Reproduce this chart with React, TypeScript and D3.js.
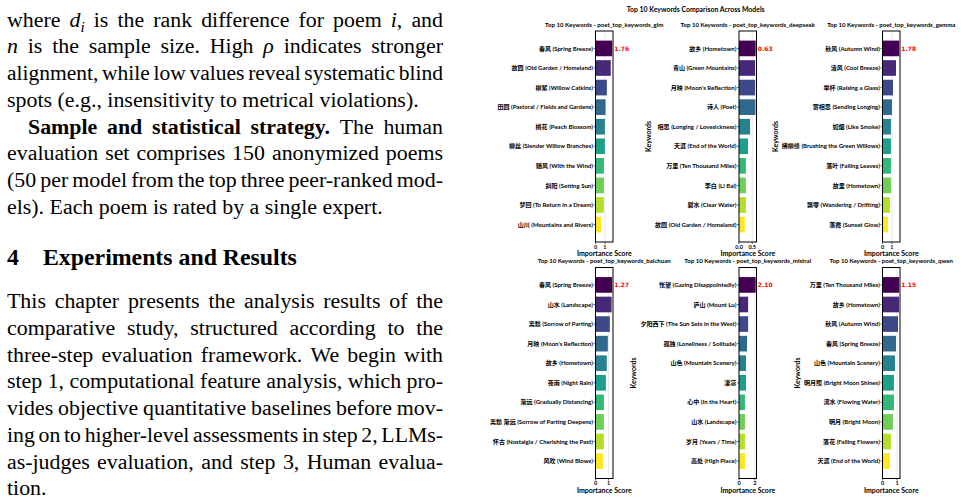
import React, { useEffect, useRef } from 'react';
import * as d3 from 'd3';

const W = 962;
const H = 503;

// ---------- chart data ----------
const glmKeywords = [
  '春风 (Spring Breeze)', '故园 (Old Garden / Homeland)', '柳絮 (Willow Catkins)',
  '田园 (Pastoral / Fields and Gardens)', '桃花 (Peach Blossom)', '柳丝 (Slender Willow Branches)',
  '随风 (With the Wind)', '斜阳 (Setting Sun)', '梦回 (To Return in a Dream)', '山川 (Mountains and Rivers)',
];
const glmScores = [1.76, 1.61, 1.2, 1.06, 0.99, 0.99, 0.89, 0.89, 0.88, 0.58];

const deepseekKeywords = [
  '故乡 (Hometown)', '青山 (Green Mountains)', "月映 (Moon's Reflection)", '诗人 (Poet)',
  '相思 (Longing / Lovesickness)', '天涯 (End of the World)', '万里 (Ten Thousand Miles)',
  '李白 (Li Bai)', '碧水 (Clear Water)', '故园 (Old Garden / Homeland)',
];
const deepseekScores = [0.63, 0.61, 0.61, 0.62, 0.42, 0.34, 0.26, 0.26, 0.26, 0.22];

const gemmaKeywords = [
  '秋风 (Autumn Wind)', '清风 (Cool Breeze)', '举杯 (Raising a Glass)', '寄相思 (Sending Longing)',
  '如烟 (Like Smoke)', '拂柳绦 (Brushing the Green Willows)', '落叶 (Falling Leaves)',
  '故里 (Hometown)', '飘零 (Wandering / Drifting)', '落霞 (Sunset Glow)',
];
const gemmaScores = [1.78, 1.44, 1.12, 1.01, 0.9, 0.9, 0.9, 0.9, 0.79, 0.58];

const baichuanKeywords = [
  '春风 (Spring Breeze)', '山水 (Landscape)', '离愁 (Sorrow of Parting)', "月映 (Moon's Reflection)",
  '故乡 (Hometown)', '夜雨 (Night Rain)', '渐远 (Gradually Distancing)',
  '离愁 渐远 (Sorrow of Parting Deepens)', '怀古 (Nostalgia / Cherishing the Past)', '风吹 (Wind Blows)',
];
const baichuanScores = [1.27, 1.23, 1.09, 0.94, 0.86, 0.79, 0.64, 0.64, 0.64, 0.57];

const mistralKeywords = [
  '怅望 (Gazing Disappointedly)', '庐山 (Mount Lu)', '夕阳西下 (The Sun Sets in the West)',
  '孤独 (Loneliness / Solitude)', '山色 (Mountain Scenery)', '凄凉', '心中 (In the Heart)',
  '山水 (Landscape)', '岁月 (Years / Time)', '高处 (High Place)',
];
const mistralScores = [2.1, 1.15, 1.15, 1.01, 0.88, 0.88, 0.75, 0.75, 0.75, 0.75];

const qwenKeywords = [
  '万里 (Ten Thousand Miles)', '故乡 (Hometown)', '秋风 (Autumn Wind)', '春风 (Spring Breeze)',
  '山色 (Mountain Scenery)', '明月照 (Bright Moon Shines)', '流水 (Flowing Water)',
  '明月 (Bright Moon)', '落花 (Falling Flowers)', '天涯 (End of the World)',
];
const qwenScores = [1.15, 1.14, 1.07, 0.93, 0.86, 0.79, 0.79, 0.72, 0.58, 0.51];

const modelNames = ['glm', 'deepseek', 'gemma', 'baichuan', 'mistral', 'qwen'];
const glmTicks = [0, 1];
const deepseekTicks = [0, 0.5];
const gemmaTicks = [0, 1];
const baichuanTicks = [0, 1];
const mistralTicks = [0, 2];
const qwenTicks = [0, 1];

// ---------- page text ----------
const para1 = [
  'where *d*_i is the rank difference for poem *i*, and',
  '*n* is the sample size. High *ρ* indicates stronger',
  'alignment, while low values reveal systematic blind',
  'spots (e.g., insensitivity to metrical violations).',
  '#Sample #and #statistical #strategy. The human',
  'evaluation set comprises 150 anonymized poems',
  '(50 per model from the top three peer-ranked mod-',
  'els). Each poem is rated by a single expert.',
];
const para1Last = [3, 7];
const para1Indent = [4];
const headingNum = '4';
const headingText = 'Experiments and Results';
const para2 = [
  'This chapter presents the analysis results of the',
  'comparative study, structured according to the',
  'three-step evaluation framework. We begin with',
  'step 1, computational feature analysis, which pro-',
  'vides objective quantitative baselines before mov-',
  'ing on to higher-level assessments in step 2, LLMs-',
  'as-judges evaluation, and step 3, Human evalua-',
  'tion.',
];
const para2Last = [7];

const BODY_FONT = "'Liberation Serif', 'Times New Roman', serif";
const CHART_FONT = "Lato, 'Noto Sans CJK SC', sans-serif";

function parseToken(tok) {
  let bold = false;
  if (tok.startsWith('#')) {
    bold = true;
    tok = tok.slice(1);
  }
  const segs = [];
  const re = /\*([^*]+)\*|_(.)|([^*_]+)/g;
  let m;
  while ((m = re.exec(tok))) {
    if (m[1]) segs.push({ t: m[1], kind: 'it' });
    else if (m[2]) segs.push({ t: m[2], kind: 'sub' });
    else segs.push({ t: m[3], kind: 'rm' });
  }
  return { bold, segs };
}

// lay out one paragraph line by line; justified lines get stretched (or squeezed) word gaps
function drawParagraph(g, lines, lastLines, indentLines, startY, step, fs, left, right) {
  const minGap = fs * 0.17;
  lines.forEach((line, li) => {
    const y = startY + li * step;
    const indent = indentLines.includes(li) ? 21 : 0;
    const tokens = line.split(/\s+/).map(parseToken);
    const nodes = tokens.map((tk) => {
      const text = g.append('text')
        .attr('x', 0)
        .attr('y', y)
        .attr('font-size', fs)
        .attr('font-weight', tk.bold ? 'bold' : 'normal');
      let shift = 0;
      tk.segs.forEach((s) => {
        const ts = text.append('tspan').text(s.t);
        if (s.kind === 'it') ts.attr('font-style', 'italic');
        if (s.kind === 'sub') {
          ts.attr('font-style', 'italic').attr('font-size', fs * 0.7).attr('dy', fs * 0.22 - shift);
          shift = fs * 0.22;
        } else if (shift) {
          ts.attr('dy', -shift);
          shift = 0;
        }
      });
      return text;
    });
    const widths = nodes.map((n) => n.node().getComputedTextLength());
    const total = d3.sum(widths);
    const x0 = left + indent;
    const avail = right - x0;
    let gap = fs * 0.25;
    let squeeze = 1;
    if (!lastLines.includes(li) && nodes.length > 1) {
      gap = (avail - total) / (nodes.length - 1);
      if (gap < minGap) {
        gap = minGap;
        squeeze = (avail - minGap * (nodes.length - 1)) / total;
      }
    }
    let x = x0;
    nodes.forEach((n, i) => {
      n.attr('transform', `translate(${x},0) scale(${squeeze},1)`);
      x += widths[i] * squeeze + gap;
    });
  });
}

function drawPanel(svg, name, keywords, scores, ticks, x0, y0, fw, fh, showYLabel) {
  const g = svg.append('g').attr('transform', `translate(${x0},${y0})`);
  const xMax = d3.max(scores) * 1.05;
  const x = d3.scaleLinear().domain([0, xMax]).range([0, fw]);
  const y = d3.scaleLinear().domain([-0.89, 9.89]).range([0, fh]);
  const color = (i) => d3.interpolateViridis(i / (scores.length - 1));
  const fmt = ticks.some((t) => t % 1 !== 0) ? d3.format('.1f') : d3.format('d');

  // grid lines
  g.selectAll('.grid')
    .data(ticks.filter((t) => t > 0))
    .enter()
    .append('line')
    .attr('x1', (d) => x(d))
    .attr('x2', (d) => x(d))
    .attr('y1', 0)
    .attr('y2', fh)
    .attr('stroke', '#e3e3e3')
    .attr('stroke-width', 0.8);

  // bars
  g.selectAll('.bar')
    .data(scores)
    .enter()
    .append('rect')
    .attr('x', 0)
    .attr('y', (d, i) => y(i - 0.4))
    .attr('width', (d) => x(d))
    .attr('height', y(0.8) - y(0))
    .attr('fill', (d, i) => color(i));

  // frame
  g.append('rect')
    .attr('width', fw)
    .attr('height', fh)
    .attr('fill', 'none')
    .attr('stroke', '#000')
    .attr('stroke-width', 1);

  // y ticks + labels
  const labels = [];
  keywords.forEach((k, i) => {
    g.append('line')
      .attr('x1', -2).attr('x2', 0)
      .attr('y1', y(i)).attr('y2', y(i))
      .attr('stroke', '#000').attr('stroke-width', 0.6);
    const t = g.append('text')
      .attr('x', -2.6)
      .attr('y', y(i))
      .attr('dy', '0.35em')
      .attr('text-anchor', 'end')
      .attr('font-size', 6.05)
      .attr('font-weight', 'bold')
      .text(k);
    labels.push(t.node().getComputedTextLength());
  });

  // x ticks + labels
  ticks.forEach((t) => {
    g.append('line')
      .attr('x1', x(t)).attr('x2', x(t))
      .attr('y1', fh).attr('y2', fh + 2)
      .attr('stroke', '#000').attr('stroke-width', 0.6);
    g.append('text')
      .attr('x', x(t))
      .attr('y', fh + 6.8)
      .attr('text-anchor', 'middle')
      .attr('font-size', 5.5)
      .attr('font-weight', 'bold')
      .text(fmt(t));
  });

  // value of the top keyword
  g.append('text')
    .attr('x', x(scores[0]) + 2.2)
    .attr('y', y(0))
    .attr('dy', '0.36em')
    .attr('font-family', "'DejaVu Sans', sans-serif")
    .attr('font-size', 6)
    .attr('font-weight', 'bold')
    .attr('fill', '#ff0000')
    .text(scores[0].toFixed(2));

  // subplot title
  g.append('text')
    .attr('x', fw / 2)
    .attr('y', -4.3)
    .attr('text-anchor', 'middle')
    .attr('font-size', 6.1)
    .attr('font-weight', 'bold')
    .text(`Top 10 Keywords - poet_top_keywords_${name}`);

  // x label
  g.append('text')
    .attr('x', fw / 2)
    .attr('y', fh + 14.2)
    .attr('text-anchor', 'middle')
    .attr('font-size', 7)
    .attr('font-weight', 'bold')
    .text('Importance Score');

  // y label
  if (showYLabel) {
    const lx = -2.6 - d3.max(labels) - 6.6;
    g.append('text')
      .attr('transform', `translate(${lx},${fh / 2}) rotate(-90)`)
      .attr('text-anchor', 'middle')
      .attr('dy', '0.35em')
      .attr('font-size', 7)
      .attr('font-weight', 'bold')
      .text('Keywords');
  }
}

function App() {
  const svgRef = useRef(null);

  useEffect(() => {
    const svg = d3.select(svgRef.current);
    svg.selectAll('*').remove();
    svg.append('rect').attr('width', W).attr('height', H).attr('fill', '#fff');

    // paper text column
    const page = svg.append('g').attr('font-family', BODY_FONT).attr('fill', '#000');
    drawParagraph(page, para1, para1Last, para1Indent, 26.7, 26.75, 21.9, 7, 443);
    page.append('text')
      .attr('x', 7).attr('y', 265)
      .attr('font-size', 23.8).attr('font-weight', 'bold')
      .text(headingNum);
    page.append('text')
      .attr('x', 43).attr('y', 265)
      .attr('font-size', 23.8).attr('font-weight', 'bold')
      .text(headingText);
    drawParagraph(page, para2, para2Last, [], 308.3, 26.7, 21.9, 7, 443);

    // figure
    const fig = svg.append('g').attr('font-family', CHART_FONT).attr('fill', '#000');
    fig.append('text')
      .attr('x', 695.7)
      .attr('y', 11.5)
      .attr('text-anchor', 'middle')
      .attr('font-size', 6.9)
      .attr('font-weight', 'bold')
      .text('Top 10 Keywords Comparison Across Models');

    const keywordLists = [glmKeywords, deepseekKeywords, gemmaKeywords, baichuanKeywords, mistralKeywords, qwenKeywords];
    const scoreLists = [glmScores, deepseekScores, gemmaScores, baichuanScores, mistralScores, qwenScores];
    const tickLists = [glmTicks, deepseekTicks, gemmaTicks, baichuanTicks, mistralTicks, qwenTicks];
    const colX = [595.5, 739, 882.5];
    const rowY = [31, 267.5];
    modelNames.forEach((name, i) => {
      const col = i % 3;
      const row = Math.floor(i / 3);
      drawPanel(fig, name, keywordLists[i], scoreLists[i], tickLists[i],
        colX[col], rowY[row], 17.5, 211, col > 0);
    });
  }, []);

  return (
    <svg
      ref={svgRef}
      width={W}
      height={H}
      style={{ position: 'absolute', left: 0, top: 0, display: 'block' }}
    />
  );
}

export default App;
